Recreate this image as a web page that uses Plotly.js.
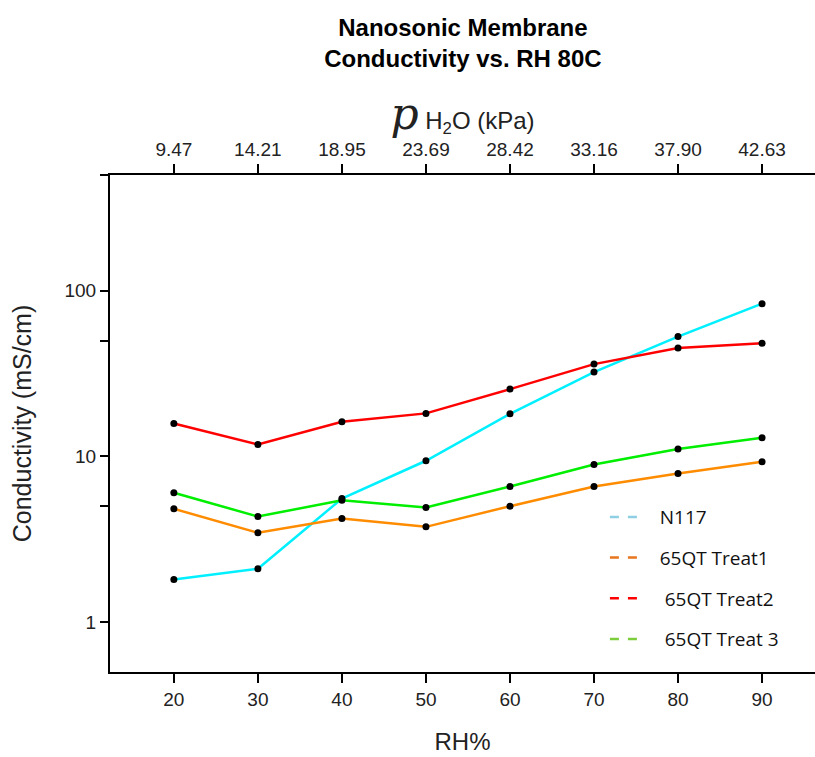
<!DOCTYPE html>
<html>
<head>
<meta charset="utf-8">
<script src="https://cdn.plot.ly/plotly-3.0.1.min.js"></script>
<style>body{margin:0;padding:0;background:#fff;}#chart{width:815px;height:757px;}</style>
</head>
<body>
<div id="chart"></div>
<script>
const rh = [20, 30, 40, 50, 60, 70, 80, 90];
const pH2O = ["9.47", "14.21", "18.95", "23.69", "28.42", "33.16", "37.90", "42.63"];
const n117 = [1.81, 2.10, 5.57, 9.42, 18.1, 32.3, 52.9, 83.6];
const treat1 = [4.83, 3.46, 4.22, 3.76, 5.01, 6.59, 7.89, 9.29];
const treat2 = [15.8, 11.8, 16.2, 18.2, 25.5, 36.1, 45.1, 48.3];
const treat3 = [6.04, 4.34, 5.44, 4.92, 6.59, 8.95, 11.1, 12.97];
const seriesNames = ["N117", "65QT Treat1", " 65QT Treat2", " 65QT Treat 3"];
const lineColors = ["#00f0ff", "#ff8c00", "#ff0000", "#00ee00"];
const legendColors = ["#8ecfe3", "#e8761e", "#ff0000", "#7ccd3c"];
const yTickVals = [1, 5, 10, 50, 100, 500];
const yTickText = ["1", "", "10", "", "100", ""];

const seriesData = [n117, treat1, treat2, treat3];
const traces = [];
seriesData.forEach((ys, i) => {
  traces.push({
    x: rh, y: ys, type: "scatter", mode: "lines+markers",
    line: {color: lineColors[i], width: 2.5},
    marker: {color: "#000", size: 7},
    showlegend: false, hoverinfo: "x+y"
  });
});
seriesNames.forEach((nm, i) => {
  traces.push({
    x: [null], y: [null], xaxis: "x2", type: "scatter", mode: "lines",
    name: "\u00a0\u00a0\u00a0" + nm.replace(/^ /, "\u00a0"), legendgroup: "g" + i,
    line: {color: legendColors[i], width: 2.5, dash: "dash"},
    showlegend: true
  });
});

const tickFont = {family: "Arial, 'Liberation Sans', sans-serif", size: 19, color: "#222"};
const layout = {
  width: 815, height: 757,
  margin: {l: 110, r: 0, t: 175, b: 85},
  paper_bgcolor: "#fff", plot_bgcolor: "#fff",
  font: {family: "Arial, 'Liberation Sans', sans-serif", color: "#111"},
  title: {
    text: "<b>Nanosonic Membrane<br>Conductivity vs. RH 80C</b>",
    font: {family: "Arial, 'Liberation Sans', sans-serif", size: 24, color: "#000"},
    x: 0.568, xref: "container", xanchor: "center",
    y: 0.9524, yref: "container", yanchor: "middle"
  },
  xaxis: {
    range: [12.4, 96.3], tickvals: rh, ticktext: rh.map(String),
    ticks: "outside", ticklen: 9, tickwidth: 2, tickcolor: "#000",
    showline: true, linewidth: 2, linecolor: "#000", mirror: false,
    showgrid: false, zeroline: false, tickfont: tickFont,
    title: {text: "RH%", font: {size: 24, color: "#222"}, standoff: 24}
  },
  xaxis2: {
    overlaying: "x", side: "top", range: [12.4, 96.3],
    tickvals: rh, ticktext: pH2O,
    ticks: "outside", ticklen: 9, tickwidth: 2, tickcolor: "#000",
    showline: true, linewidth: 2, linecolor: "#000",
    showgrid: false, zeroline: false, tickfont: tickFont,
    title: {
      text: "<span style=\"font-family:'DejaVu Serif','Liberation Serif',serif;font-size:44px\"><i>p</i></span> H<sub>2</sub>O (kPa)",
      font: {size: 24, color: "#222"}, standoff: 2
    }
  },
  yaxis: {
    type: "log", range: [Math.log10(0.5), Math.log10(500)],
    tickvals: yTickVals, ticktext: yTickText,
    ticks: "outside", ticklen: 8, tickwidth: 2, tickcolor: "#000",
    showline: true, linewidth: 2, linecolor: "#000",
    showgrid: false, zeroline: false, tickfont: tickFont,
    title: {text: "Conductivity (mS/cm)", font: {size: 25, color: "#222"}, standoff: 26}
  },
  legend: {
    x: 0.702, y: 0.35, xanchor: "left", yanchor: "top",
    bgcolor: "rgba(0,0,0,0)", borderwidth: 0,
    font: {family: "'Open Sans', 'Noto Sans', sans-serif", size: 19, color: "#111"},
    tracegroupgap: 13
  },
  showlegend: true
};

Plotly.newPlot("chart", traces, layout, {displayModeBar: false, staticPlot: true});
</script>
</body>
</html>
